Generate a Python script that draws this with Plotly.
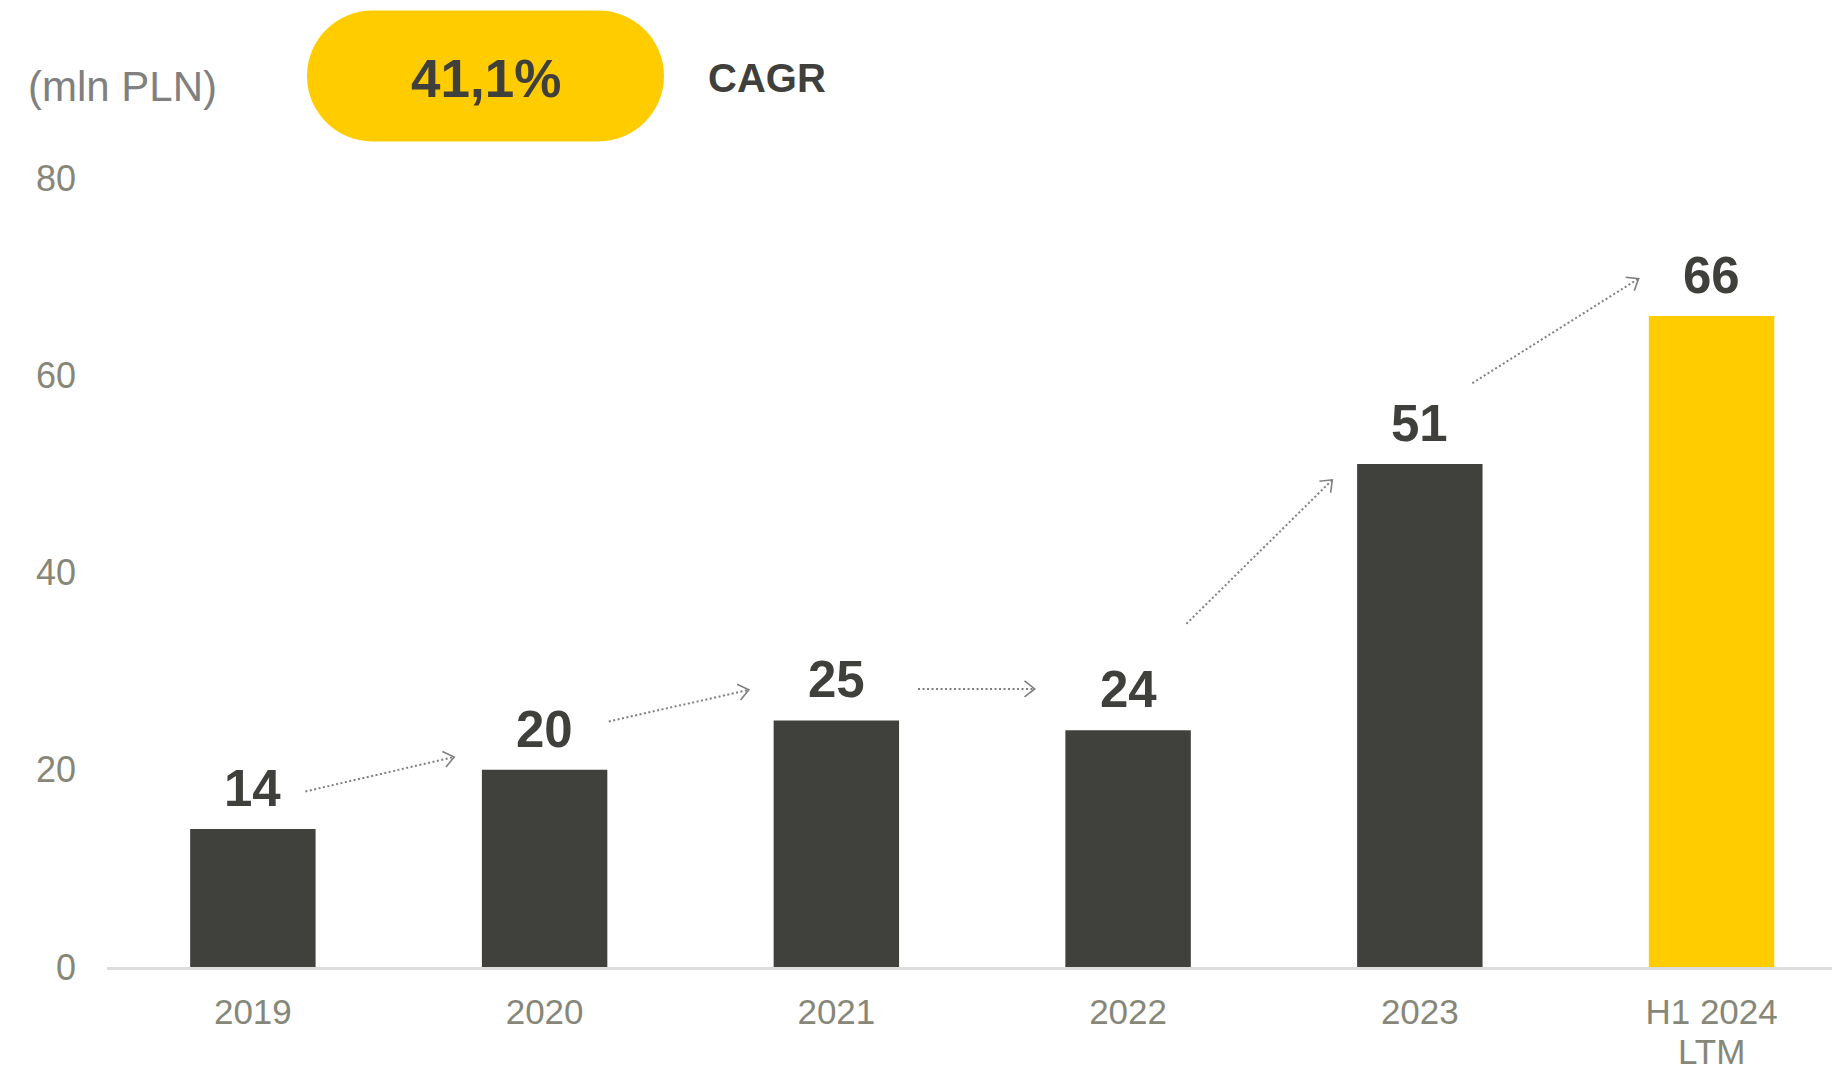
import math
import plotly.graph_objects as go

# ---- data ----
categories = ["2019", "2020", "2021", "2022", "2023", "H1 2024"]
category_sublabels = ["", "", "", "", "", "LTM"]
values = [14, 20, 25, 24, 51, 66]
bar_colors = ["#40413C", "#40413C", "#40413C", "#40413C", "#40413C", "#FFCC00"]
y_ticks = [0, 20, 40, 60, 80]
cagr_text = "41,1%"
cagr_label = "CAGR"
unit_label = "(mln PLN)"
# growth arrows: (x_start, y_start, x_end, y_end) in category index / value units
arrows = [
    (0.18, 17.8, 0.69, 21.3),
    (1.22, 24.9, 1.70, 28.1),
    (2.28, 28.2, 2.68, 28.2),
    (3.20, 34.8, 3.70, 49.4),
    (4.18, 59.2, 4.75, 69.8),
]

# ---- layout geometry (pixels) ----
W, H = 1832, 1072
L_M, R_M, T_M, B_M = 107, 0, 177.6, 104.6
PW = W - L_M - R_M
PH = H - T_M - B_M
CAT_PX = 291.74                 # pixels per category
X_RANGE = [-0.5, -0.5 + PW / CAT_PX]
Y_RANGE = [0, 80]
Y_PX = PH / (Y_RANGE[1] - Y_RANGE[0])

def px(xp):
    return (xp - L_M) / PW

def py(yp):
    return (H - B_M - yp) / PH

FONT = "Liberation Sans, Arial, sans-serif"
DARK = "#3F3F3B"
GREY = "#868779"
ARROW = "#7F7F7F"
XTICK_SIZE = 35

fig = go.Figure()
fig.add_trace(go.Bar(
    x=list(range(len(categories))), y=values,
    marker=dict(color=bar_colors, line=dict(width=0)),
    width=0.43, hoverinfo="skip", showlegend=False,
))

annotations = []
# value labels
for i, v in enumerate(values):
    annotations.append(dict(
        x=i, y=v, xref="x", yref="y", text=f"<b>{v}</b>", showarrow=False,
        yanchor="bottom", yshift=10,
        font=dict(family=FONT, size=51, color=DARK),
    ))

# second line of category labels
for i, sub in enumerate(category_sublabels):
    if sub:
        annotations.append(dict(
            x=i, y=py(1051.6), xref="x", yref="paper", text=sub, showarrow=False,
            xanchor="center", yanchor="middle", borderpad=0,
            font=dict(family=FONT, size=XTICK_SIZE, color=GREY),
        ))

# arrows (dotted shafts + open chevron heads)
HEAD_LEN = 13.0
HEAD_ANG = math.radians(38)
for (x0, y0, x1, y1) in arrows:
    fig.add_trace(go.Scatter(
        x=[x0, x1], y=[y0, y1], mode="lines",
        line=dict(color=ARROW, width=2, dash="2px,2.5px"),
        hoverinfo="skip", showlegend=False,
    ))
    dxp = (x1 - x0) * CAT_PX
    dyp = (y1 - y0) * Y_PX
    ang = math.atan2(dyp, dxp)
    hx, hy = [], []
    for s in (1, -1):
        a = ang + math.pi + s * HEAD_ANG
        hx.append(x1 + HEAD_LEN * math.cos(a) / CAT_PX)
        hy.append(y1 + HEAD_LEN * math.sin(a) / Y_PX)
    fig.add_trace(go.Scatter(
        x=[hx[0], x1, hx[1]], y=[hy[0], y1, hy[1]], mode="lines",
        line=dict(color=ARROW, width=1.6),
        hoverinfo="skip", showlegend=False,
    ))

# header texts
annotations.append(dict(
    x=px(26), y=py(86), xref="paper", yref="paper", text=unit_label,
    showarrow=False, xanchor="left", yanchor="middle",
    font=dict(family=FONT, size=42, color="#808080"),
))
annotations.append(dict(
    x=px(486), y=py(78), xref="paper", yref="paper", text=f"<b>{cagr_text}</b>",
    showarrow=False, xanchor="center", yanchor="middle",
    font=dict(family=FONT, size=53, color=DARK),
))
annotations.append(dict(
    x=px(706), y=py(77), xref="paper", yref="paper", text=f"<b>{cagr_label}</b>",
    showarrow=False, xanchor="left", yanchor="middle",
    font=dict(family=FONT, size=40, color=DARK),
))

# pill shape
x0p, x1p, y0p, y1p = 307, 664, 10, 141
r = (y1p - y0p) / 2
cy = (y0p + y1p) / 2
cl, cr = x0p + r, x1p - r
k = 0.5523 * r
def P(xp, yp):
    return f"{px(xp):.6f},{py(yp):.6f}"
path = (
    f"M{P(cl, y0p)} L{P(cr, y0p)} "
    f"C{P(cr + k, y0p)} {P(x1p, cy - k)} {P(x1p, cy)} "
    f"C{P(x1p, cy + k)} {P(cr + k, y1p)} {P(cr, y1p)} "
    f"L{P(cl, y1p)} "
    f"C{P(cl - k, y1p)} {P(x0p, cy + k)} {P(x0p, cy)} "
    f"C{P(x0p, cy - k)} {P(cl - k, y0p)} {P(cl, y0p)} Z"
)

fig.update_layout(
    width=W, height=H,
    margin=dict(l=L_M, r=R_M, t=T_M, b=B_M, pad=0, autoexpand=False),
    paper_bgcolor="white", plot_bgcolor="white",
    bargap=0.57,
    xaxis=dict(
        range=X_RANGE, automargin=False,
        tickmode="array", tickvals=list(range(len(categories))), ticktext=categories,
        showgrid=False, zeroline=False, showline=True, linecolor="#DDDDDD", linewidth=2.5,
        ticks="", ticklabelstandoff=12,
        tickfont=dict(family=FONT, size=XTICK_SIZE, color=GREY),
        fixedrange=True,
    ),
    yaxis=dict(
        range=Y_RANGE, automargin=False, tickmode="array", tickvals=y_ticks,
        showgrid=False, zeroline=False, showline=False,
        ticks="", ticklabelstandoff=30,
        tickfont=dict(family=FONT, size=36, color=GREY),
        fixedrange=True,
    ),
    shapes=[dict(type="path", path=path, xref="paper", yref="paper",
                 fillcolor="#FFCC00", line=dict(width=0), layer="below")],
    annotations=annotations,
    showlegend=False,
)

fig.write_html(
    "out.html",
    config={"displayModeBar": False},
    post_script="document.body.style.margin='0';document.body.style.overflow='hidden';",
)
